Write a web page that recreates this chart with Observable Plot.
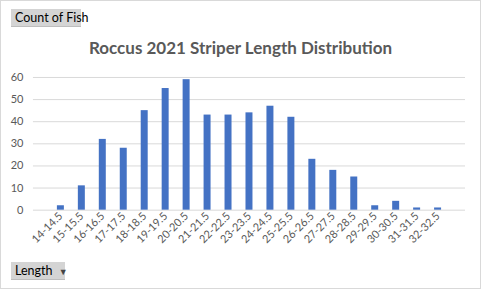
<!DOCTYPE html>
<html><head><meta charset="utf-8">
<script src="https://cdn.jsdelivr.net/npm/d3@7"></script>
<script src="https://cdn.jsdelivr.net/npm/@observablehq/plot@0.6"></script>
<style>
body{margin:0;background:#fff;}
#frame{position:relative;width:481px;height:289px;box-sizing:border-box;border:1px solid #d9d9d9;background:#fff;overflow:hidden;font-family:Lato,"Open Sans",sans-serif;}
.btn{position:absolute;box-sizing:border-box;background:#d4d4d4;color:#000;font-size:12.5px;line-height:17px;height:18px;padding:0 0 0 4px;white-space:nowrap;border-bottom:1px solid #bdbdbd;}
#title{position:absolute;left:0;width:479px;top:36px;text-align:center;font-size:17px;font-weight:bold;color:#595959;}
#chart{position:absolute;left:-1px;top:59px;}
</style></head>
<body>
<div id="frame">
  <div class="btn" style="left:10px;top:8px;width:70px;">Count of Fish</div>
  <div id="title">Roccus 2021 Striper Length Distribution</div>
  <div id="chart"></div>
  <div class="btn" style="left:10px;top:261px;width:54px;">Length <span style="font-size:9px;color:#444;margin-left:3px">&#9660;</span></div>
</div>
<script>
const categories = ["14-14.5","15-15.5","16-16.5","17-17.5","18-18.5","19-19.5","20-20.5","21-21.5","22-22.5","23-23.5","24-24.5","25-25.5","26-26.5","27-27.5","28-28.5","29-29.5","30-30.5","31-31.5","32-32.5"];
const counts = [2,11,32,28,45,55,59,43,43,44,47,42,23,18,15,2,4,1,1];
const yTicks = [0,10,20,30,40,50,60];
const data = categories.map((c,i)=>({len:c,count:counts[i]}));
const chart = Plot.plot({
  width:481, height:205,
  marginTop:17, marginBottom:55, marginLeft:33, marginRight:15,
  style:{fontFamily:"Lato, 'Open Sans', sans-serif", fontSize:"11px", color:"#595959", background:"transparent"},
  x:{domain:categories, padding:0.69, label:null, tickSize:0, tickRotate:-45, tickPadding:4},
  y:{domain:[0,60], ticks:yTicks, label:null, tickSize:0, tickPadding:10},
  marks:[
    Plot.gridY(yTicks,{stroke:"#d9d9d9", strokeOpacity:1}),
    Plot.barY(data,{x:"len", y:"count", fill:"#4472C4"})
  ]
});
document.getElementById("chart").appendChild(chart);
</script>
</body></html>
